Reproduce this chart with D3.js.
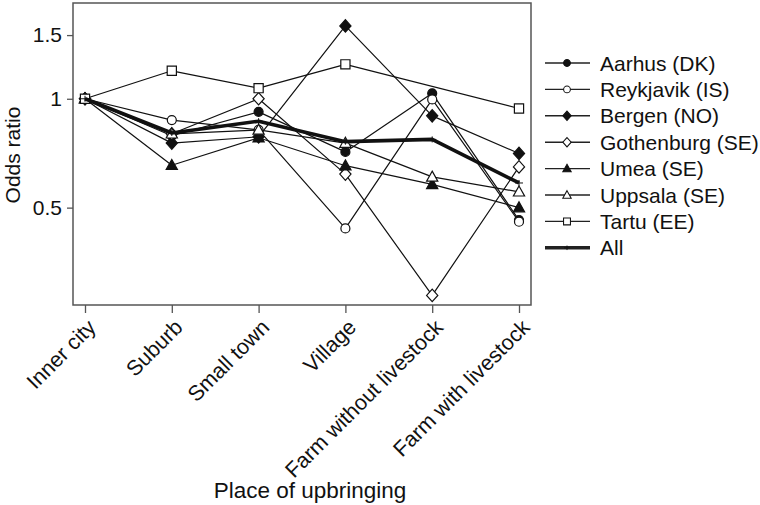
<!DOCTYPE html>
<html><head><meta charset="utf-8">
<script src="https://cdn.jsdelivr.net/npm/d3@7"></script>
<style>body{margin:0;background:#fff}svg{display:block}text{font-family:"Liberation Sans",Arial,sans-serif;fill:#111}</style>
</head><body><svg id="c" width="760" height="505"></svg>
<script>
const categories = ["Inner city","Suburb","Small town","Village","Farm without livestock","Farm with livestock"];
const seriesNames = ["Aarhus (DK)","Reykjavik (IS)","Bergen (NO)","Gothenburg (SE)","Umea (SE)","Uppsala (SE)","Tartu (EE)","All"];
const aarhus     = [1, 0.79, 0.92, 0.713, 1.035, 0.462];
const reykjavik  = [1, 0.873, 0.82, 0.438, 0.996, 0.457];
const bergen     = [1, 0.754, 0.785, 1.59, 0.897, 0.706];
const gothenburg = [1, 0.80, 1.0, 0.619, 0.286, 0.648];
const umea       = [1, 0.655, 0.78, 0.653, 0.58, 0.50];
const uppsala    = [1, 0.80, 0.82, 0.754, 0.608, 0.553];
const tartu      = [1, 1.195, 1.07, 1.245, null, 0.94];
const allSeries  = [1, 0.804, 0.867, 0.761, 0.772, 0.585];
const yTicks = [0.5, 1, 1.5];
const yTickLabels = ["0.5", "1", "1.5"];
const xTitle = "Place of upbringing";
const yTitle = "Odds ratio";

const markers = ["circle","circle","diamond","diamond","triangle","triangle","square","plus"];
const filled  = [true,false,true,false,true,false,false,true];
const values = [aarhus, reykjavik, bergen, gothenburg, umea, uppsala, tartu, allSeries];

const svg = d3.select("#c");
const L = 73, R = 531, T = 3, B = 305;
const x = d3.scalePoint().domain(categories).range([85, 519]);
const y = d3.scaleLog().domain([0.269, 1.84]).range([B, T]);

function markerPath(type) {
  if (type === "circle") return "M4.5,0A4.5,4.5 0 1,1 -4.5,0A4.5,4.5 0 1,1 4.5,0Z";
  if (type === "square") return "M-4.6,-4.6H4.6V4.6H-4.6Z";
  if (type === "diamond") return "M0,-6.2L5.6,0L0,6.2L-5.6,0Z";
  if (type === "triangle") return "M0,-5.8L5.6,4.2L-5.6,4.2Z";
  return "M-4,0H4M0,-3V3";
}

// frame
svg.append("rect").attr("x", L).attr("y", T).attr("width", R - L).attr("height", B - T)
  .attr("fill", "none").attr("stroke", "#555").attr("stroke-width", 1.5);

// y axis ticks
const yAxis = d3.axisLeft(y).tickValues(yTicks).tickFormat((d, i) => yTickLabels[i]).tickSize(6).tickPadding(5);
const gy = svg.append("g").attr("transform", `translate(${L},0)`).call(yAxis);
gy.select(".domain").remove();
gy.selectAll("line").attr("stroke", "#555").attr("stroke-width", 1.3);
gy.selectAll("text").style("font-size", "21px").attr("fill", "#111");

// x axis ticks
const xAxis = d3.axisBottom(x).tickSize(8).tickFormat("");
const gx = svg.append("g").attr("transform", `translate(0,${B})`).call(xAxis);
gx.select(".domain").remove();
gx.selectAll("line").attr("stroke", "#555").attr("stroke-width", 1.3);
gx.selectAll(".tick").append("text")
  .attr("transform", "translate(1,13) rotate(-45)")
  .attr("text-anchor", "end").attr("dy", "0.7em")
  .style("font-size", "21.5px").attr("fill", "#111")
  .text(d => d);

// titles
svg.append("text").attr("transform", "translate(20,155) rotate(-90)")
  .attr("text-anchor", "middle").style("font-size", "21px").text(yTitle);
svg.append("text").attr("x", 310).attr("y", 498)
  .attr("text-anchor", "middle").style("font-size", "22.5px").text(xTitle);

// lines
const line = d3.line().x(d => x(d.c)).y(d => y(d.v));
values.forEach((vals, s) => {
  const pts = vals.map((v, i) => ({c: categories[i], v})).filter(d => d.v != null);
  const isAll = s === 7;
  svg.append("path").datum(pts).attr("d", line)
    .attr("fill", "none").attr("stroke", "#111")
    .attr("stroke-width", isAll ? 3.6 : 1.2).attr("stroke-linejoin", "round");
  svg.append("g").selectAll("path").data(pts).join("path")
    .attr("transform", d => `translate(${x(d.c)},${y(d.v)})`)
    .attr("d", markerPath(markers[s]))
    .attr("fill", isAll ? "none" : (filled[s] ? "#111" : "#fff"))
    .attr("stroke", "#111").attr("stroke-width", isAll ? 1 : 1.2);
});

// legend
const lg = svg.append("g");
seriesNames.forEach((name, s) => {
  const yy = 63 + s * 26.4;
  const isAll = s === 7;
  lg.append("line").attr("x1", 545).attr("x2", 590).attr("y1", yy).attr("y2", yy)
    .attr("stroke", "#222").attr("stroke-width", isAll ? 3.6 : 1.4);
  lg.append("path").attr("transform", `translate(567,${yy}) scale(0.75)`)
    .attr("d", markerPath(markers[s]))
    .attr("fill", isAll ? "none" : (filled[s] ? "#111" : "#fff"))
    .attr("stroke", "#111").attr("stroke-width", isAll ? 1.2 : 1.4);
  lg.append("text").attr("x", 600).attr("y", yy).attr("dy", "0.36em")
    .style("font-size", "21px").text(name);
});
</script></body></html>
